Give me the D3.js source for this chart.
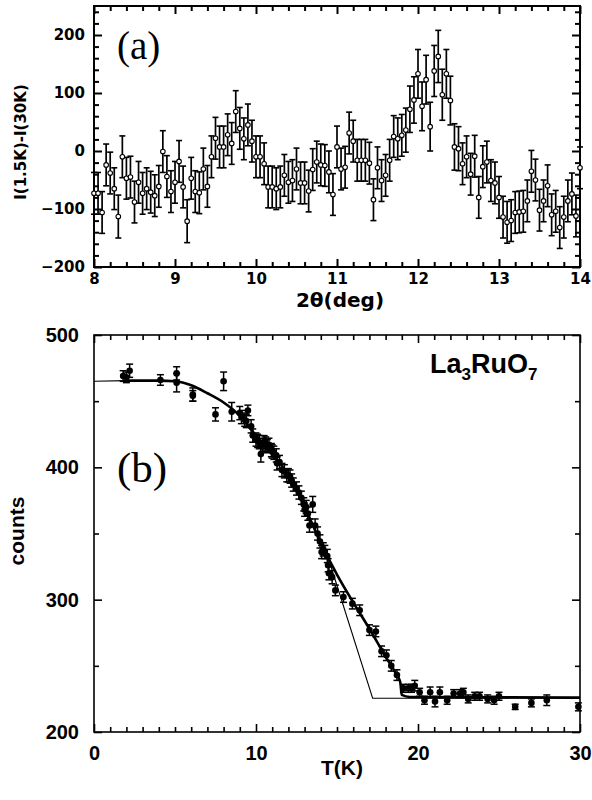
<!DOCTYPE html>
<html>
<head>
<meta charset="utf-8">
<script src="https://cdn.jsdelivr.net/npm/d3@7"></script>
<style>
  body { margin: 0; background: #fff; }
  svg { display: block; }
</style>
</head>
<body>
<div id="chart"></div>
<script>
// ---- panel (a): I(1.5K)-I(30K) vs 2theta ----
var thetaA = [8.00,8.05,8.10,8.15,8.20,8.25,8.30,8.35,8.40,8.45,
  8.50,8.55,8.60,8.65,8.70,8.75,8.80,8.85,8.90,8.95,
  9.00,9.05,9.10,9.15,9.20,9.25,9.30,9.35,9.40,9.45,
  9.50,9.55,9.60,9.65,9.70,9.75,9.80,9.85,9.90,9.95,
  10.00,10.05,10.10,10.15,10.20,10.25,10.30,10.35,10.40,10.45,
  10.50,10.55,10.60,10.65,10.70,10.75,10.80,10.85,10.90,10.95,
  11.00,11.05,11.10,11.15,11.20,11.25,11.30,11.35,11.40,11.45,
  11.50,11.55,11.60,11.65,11.70,11.75,11.80,11.85,11.90,11.95,
  12.00,12.05,12.10,12.15,12.20,12.25,12.30,12.35,12.40,12.45,
  12.50,12.55,12.60,12.65,12.70,12.75,12.80,12.85,12.90,12.95,
  13.00,13.05,13.10,13.15,13.20,13.25,13.30,13.35,13.40,13.45,
  13.50,13.55,13.60,13.65,13.70,13.75,13.80,13.85,13.90,13.95,
  14.00];
var diffA = [-73,-73,-106,-24,-38,-65,-113,-10,-47,-45,
  -88,-54,-73,-65,-71,-77,-61,-1,-44,-70,
  -54,-18,-62,-121,-47,-70,-72,-31,-61,-10,
  22,7,7,28,13,68,39,21,45,17,
  -10,-10,-22,-62,-62,-65,-62,-42,-54,-51,
  -31,-55,-55,-69,-32,-19,-24,-25,-36,-75,
  7,-31,-28,31,17,-16,-16,-16,-21,-84,
  -29,-51,-42,-16,25,21,27,36,72,88,
  133,77,123,42,138,163,97,133,87,7,
  4,-22,-10,-40,-9,-80,-27,-19,-51,-55,
  -80,-114,-123,-120,-106,-105,-104,-86,-35,-50,
  -102,-86,-60,-110,-104,-132,-114,-86,-74,-112,
  -29];
var errA = [36,36,36,36,36,36,37,36,36,36,
  36,36,36,36,36,36,36,36,36,36,
  36,36,36,37,36,36,36,36,36,36,
  36,36,36,36,36,36,36,36,36,36,
  36,36,36,36,36,36,36,36,36,36,
  36,36,36,36,36,36,36,36,36,36,
  36,36,36,36,36,36,36,36,36,36,
  36,36,36,36,36,36,36,38,40,40,
  42,42,42,42,44,45,44,42,42,40,
  38,36,36,36,36,36,36,36,36,36,
  36,36,36,36,36,36,36,36,36,36,
  36,36,36,36,36,36,36,36,36,36,
  36];
var xTicksA = [8, 9, 10, 11, 12, 13, 14];
var yTicksA = [-200, -100, 0, 100, 200];

// ---- panel (b): counts vs T ----
var tempB = [1.8,2.0,2.2,4.1,5.1,5.1,6.1,6.1,7.5,8.0,
  8.5,9.0,9.1,9.3,9.4,9.5,9.7,9.8,10.0,10.1,10.2,
  10.3,10.4,10.5,10.6,10.7,10.8,10.95,11.0,11.1,11.25,11.3,11.45,11.6,11.75,11.9,
  12.0,12.1,12.2,12.3,12.5,12.65,12.8,12.95,13.0,13.1,13.2,13.3,13.5,13.65,13.8,13.95,
  14.05,14.15,14.25,14.4,14.45,14.5,14.7,14.9,15.4,15.95,16.4,
  17.0,17.4,17.75,18.05,18.35,18.7,19.1,19.4,19.6,19.8,
  20.1,20.4,20.75,21.05,21.35,21.8,22.2,22.6,22.8,23.1,
  23.5,23.8,24.3,24.7,25.0,26.0,27.0,27.95,29.9];
var countsB = [469,468,473,466,464,471,455,454,440,465,
  442,441,438,436,435,443,431,424,421,420,419,
  410,417,419,418,416,417,413,412,411,409,403,404,398,397,394,
  394,393,390,387,384,381,377,372,368,370,365,356,372,356,350,344,
  336,338,336,333,326,320,317,307,302,297,292,
  277,276,261,258,250,243,233,233,233,235,
  230,224,230,223,230,224,229,229,230,225,
  227,227,225,224,227,219,222,224,219];
var errB = [4,4,5,4,7,5,5,4,5,7,
  7,5,5,5,5,4,5,5,5,5,5,
  6,5,5,5,5,5,5,5,5,5,5,5,5,5,5,
  5,5,5,5,5,5,5,5,5,5,5,5,6,5,5,5,
  5,5,5,5,5,5,5,4,4,4,4,
  4,4,4,4,4,4,3,3,3,4,
  3,3,4,4,4,3,3,3,3,3,
  3,3,3,3,3,2,3,4,3];
// smooth fit (thick) and sharp-transition curve (thin)
var fitT     = [2, 4, 5, 6, 7, 8, 9, 10, 11, 12, 13, 14, 15, 16, 17, 18, 18.6, 18.9, 19.0, 19.5, 30];
var fitThick = [465.5, 465.5, 465, 462, 456, 449, 439, 424, 410, 394, 370, 343, 319, 298, 278, 257, 245, 238, 228, 226.5, 226];
var thinFlatT = [0, 2];
var thinFlat  = [465, 465.5];
var thinDropT = [14.5, 17.2, 30];
var thinDrop  = [330, 225.5, 225.5];
var xTicksB = [0, 10, 20, 30];
var yTicksB = [200, 300, 400, 500];

var W = 592, H = 800;
var svg = d3.select("#chart").append("svg")
  .attr("width", W)
  .attr("height", H);

var xA = d3.scaleLinear().domain([8, 14]).range([94, 580]);
var yA = d3.scaleLinear().domain([-200, 250]).range([267, 6]);
var xB = d3.scaleLinear().domain([0, 30]).range([94, 580]);
var yB = d3.scaleLinear().domain([200, 500]).range([732, 335]);

// draw inward ticks on all four sides plus a box
function drawFrame(x, y, xMaj, xMin, yMaj, yMin, majLen, minLen, sw) {
  var x0 = x.range()[0], x1 = x.range()[1], y0 = y.range()[0], y1 = y.range()[1];
  var g = svg.append("g");
  var add = function(tr, ax) {
    g.append("g").attr("transform", tr).call(ax)
      .call(function(s) { s.select(".domain").remove(); })
      .selectAll("line").attr("stroke", "#000").attr("stroke-width", sw);
  };
  add("translate(0," + y0 + ")", d3.axisBottom(x).tickValues(xMaj).tickSize(-majLen).tickFormat(""));
  add("translate(0," + y0 + ")", d3.axisBottom(x).tickValues(xMin).tickSize(-minLen).tickFormat(""));
  add("translate(0," + y1 + ")", d3.axisTop(x).tickValues(xMaj).tickSize(-majLen).tickFormat(""));
  add("translate(0," + y1 + ")", d3.axisTop(x).tickValues(xMin).tickSize(-minLen).tickFormat(""));
  add("translate(" + x0 + ",0)", d3.axisLeft(y).tickValues(yMaj).tickSize(-majLen).tickFormat(""));
  add("translate(" + x0 + ",0)", d3.axisLeft(y).tickValues(yMin).tickSize(-minLen).tickFormat(""));
  add("translate(" + x1 + ",0)", d3.axisRight(y).tickValues(yMaj).tickSize(-majLen).tickFormat(""));
  add("translate(" + x1 + ",0)", d3.axisRight(y).tickValues(yMin).tickSize(-minLen).tickFormat(""));
  g.append("rect")
    .attr("x", x0).attr("y", y1)
    .attr("width", x1 - x0).attr("height", y0 - y1)
    .attr("fill", "none").attr("stroke", "#000").attr("stroke-width", sw);
}

function labels(tr, ax, font, size) {
  var g = svg.append("g").attr("transform", tr).call(ax);
  g.select(".domain").remove();
  g.selectAll("text")
    .attr("font-family", font)
    .attr("font-weight", "bold")
    .attr("font-size", size)
    .attr("fill", "#000");
}

// ===== panel (a) =====
var minorXA = d3.range(8, 14.001, 0.2).filter(function(d) { return Math.abs(d - Math.round(d)) > 0.01; });
var minorYA = d3.range(-200, 250, 20).filter(function(d) { return d % 100 !== 0; });
drawFrame(xA, yA, xTicksA, minorXA, yTicksA, minorYA, 8, 5, 2);

labels("translate(0,267)", d3.axisBottom(xA).tickValues(xTicksA).tickFormat(d3.format("d")).tickSize(0).tickPadding(6), "DejaVu Sans", 15);
labels("translate(94,0)", d3.axisLeft(yA).tickValues(yTicksA).tickFormat(d3.format("d")).tickSize(0).tickPadding(9), "DejaVu Sans", 15);

var dataA = thetaA.map(function(t, i) { return {x: t, y: diffA[i], e: errA[i]}; });
var gA = svg.append("g");
gA.selectAll(".bar").data(dataA).enter().append("line")
  .attr("x1", function(d) { return xA(d.x); })
  .attr("x2", function(d) { return xA(d.x); })
  .attr("y1", function(d) { return yA(d.y - d.e); })
  .attr("y2", function(d) { return yA(d.y + d.e); })
  .attr("stroke", "#000").attr("stroke-width", 1.7);
gA.selectAll(".capt").data(dataA).enter().append("line")
  .attr("x1", function(d) { return xA(d.x) - 3; })
  .attr("x2", function(d) { return xA(d.x) + 3; })
  .attr("y1", function(d) { return yA(d.y + d.e); })
  .attr("y2", function(d) { return yA(d.y + d.e); })
  .attr("stroke", "#000").attr("stroke-width", 1.6);
gA.selectAll(".capb").data(dataA).enter().append("line")
  .attr("x1", function(d) { return xA(d.x) - 3; })
  .attr("x2", function(d) { return xA(d.x) + 3; })
  .attr("y1", function(d) { return yA(d.y - d.e); })
  .attr("y2", function(d) { return yA(d.y - d.e); })
  .attr("stroke", "#000").attr("stroke-width", 1.6);
gA.selectAll("circle").data(dataA).enter().append("circle")
  .attr("cx", function(d) { return xA(d.x); })
  .attr("cy", function(d) { return yA(d.y); })
  .attr("r", 2.3)
  .attr("fill", "#fff").attr("stroke", "#000").attr("stroke-width", 1.1);

svg.append("text")
  .attr("x", 117).attr("y", 59)
  .attr("font-family", "Liberation Serif").attr("font-size", 39)
  .text("(a)");
svg.append("text")
  .attr("transform", "translate(26,142) rotate(-90)")
  .attr("text-anchor", "middle")
  .attr("font-family", "DejaVu Sans").attr("font-weight", "bold").attr("font-size", 15)
  .text("I(1.5K)-I(30K)");
svg.append("text")
  .attr("x", 340).attr("y", 307)
  .attr("text-anchor", "middle")
  .attr("font-family", "DejaVu Sans").attr("font-weight", "bold").attr("font-size", 20)
  .text("2θ(deg)");

// ===== panel (b) =====
var minorXB = d3.range(1, 30, 1).filter(function(d) { return d % 10 !== 0; });
var minorYB = [250, 350, 450];
drawFrame(xB, yB, xTicksB, minorXB, yTicksB, minorYB, 8, 5, 1.6);

labels("translate(0,732)", d3.axisBottom(xB).tickValues(xTicksB).tickSize(0).tickPadding(14), "Liberation Sans", 20);
labels("translate(94,0)", d3.axisLeft(yB).tickValues(yTicksB).tickSize(0).tickPadding(15), "Liberation Sans", 20);

var lineB = d3.line()
  .x(function(d) { return xB(d[0]); })
  .y(function(d) { return yB(d[1]); });
svg.append("path")
  .datum(thinFlatT.map(function(t, i) { return [t, thinFlat[i]]; }))
  .attr("fill", "none").attr("stroke", "#000").attr("stroke-width", 1.1)
  .attr("d", lineB);
svg.append("path")
  .datum(thinDropT.map(function(t, i) { return [t, thinDrop[i]]; }))
  .attr("fill", "none").attr("stroke", "#000").attr("stroke-width", 1.1)
  .attr("d", lineB);
svg.append("path")
  .datum(fitT.map(function(t, i) { return [t, fitThick[i]]; }))
  .attr("fill", "none").attr("stroke", "#000").attr("stroke-width", 2.6)
  .attr("d", d3.line().curve(d3.curveMonotoneX)
    .x(function(d) { return xB(d[0]); })
    .y(function(d) { return yB(d[1]); }));

var dataB = tempB.map(function(t, i) { return {x: t, y: countsB[i], e: errB[i]}; });
var gB = svg.append("g");
gB.selectAll(".bar").data(dataB).enter().append("line")
  .attr("x1", function(d) { return xB(d.x); })
  .attr("x2", function(d) { return xB(d.x); })
  .attr("y1", function(d) { return yB(d.y - d.e); })
  .attr("y2", function(d) { return yB(d.y + d.e); })
  .attr("stroke", "#000").attr("stroke-width", 1.5);
gB.selectAll(".capt").data(dataB).enter().append("line")
  .attr("x1", function(d) { return xB(d.x) - 3.5; })
  .attr("x2", function(d) { return xB(d.x) + 3.5; })
  .attr("y1", function(d) { return yB(d.y + d.e); })
  .attr("y2", function(d) { return yB(d.y + d.e); })
  .attr("stroke", "#000").attr("stroke-width", 1.5);
gB.selectAll(".capb").data(dataB).enter().append("line")
  .attr("x1", function(d) { return xB(d.x) - 3.5; })
  .attr("x2", function(d) { return xB(d.x) + 3.5; })
  .attr("y1", function(d) { return yB(d.y - d.e); })
  .attr("y2", function(d) { return yB(d.y - d.e); })
  .attr("stroke", "#000").attr("stroke-width", 1.5);
gB.selectAll("circle").data(dataB).enter().append("circle")
  .attr("cx", function(d) { return xB(d.x); })
  .attr("cy", function(d) { return yB(d.y); })
  .attr("r", 3.3)
  .attr("fill", "#000");

svg.append("text")
  .attr("x", 117).attr("y", 482)
  .attr("font-family", "Liberation Serif").attr("font-size", 43)
  .text("(b)");
svg.append("text")
  .attr("transform", "translate(24,531) rotate(-90)")
  .attr("text-anchor", "middle")
  .attr("font-family", "Liberation Sans").attr("font-weight", "bold").attr("font-size", 21)
  .text("counts");
svg.append("text")
  .attr("x", 342).attr("y", 775)
  .attr("text-anchor", "middle")
  .attr("font-family", "Liberation Sans").attr("font-weight", "bold").attr("font-size", 21)
  .text("T(K)");

var formula = svg.append("text")
  .attr("x", 430).attr("y", 373)
  .attr("font-family", "Liberation Sans").attr("font-weight", "bold").attr("font-size", 27);
formula.append("tspan").text("La");
formula.append("tspan").attr("font-size", 17).attr("dy", 7).text("3");
formula.append("tspan").attr("dy", -7).text("RuO");
formula.append("tspan").attr("font-size", 17).attr("dy", 7).text("7");
</script>
</body>
</html>
